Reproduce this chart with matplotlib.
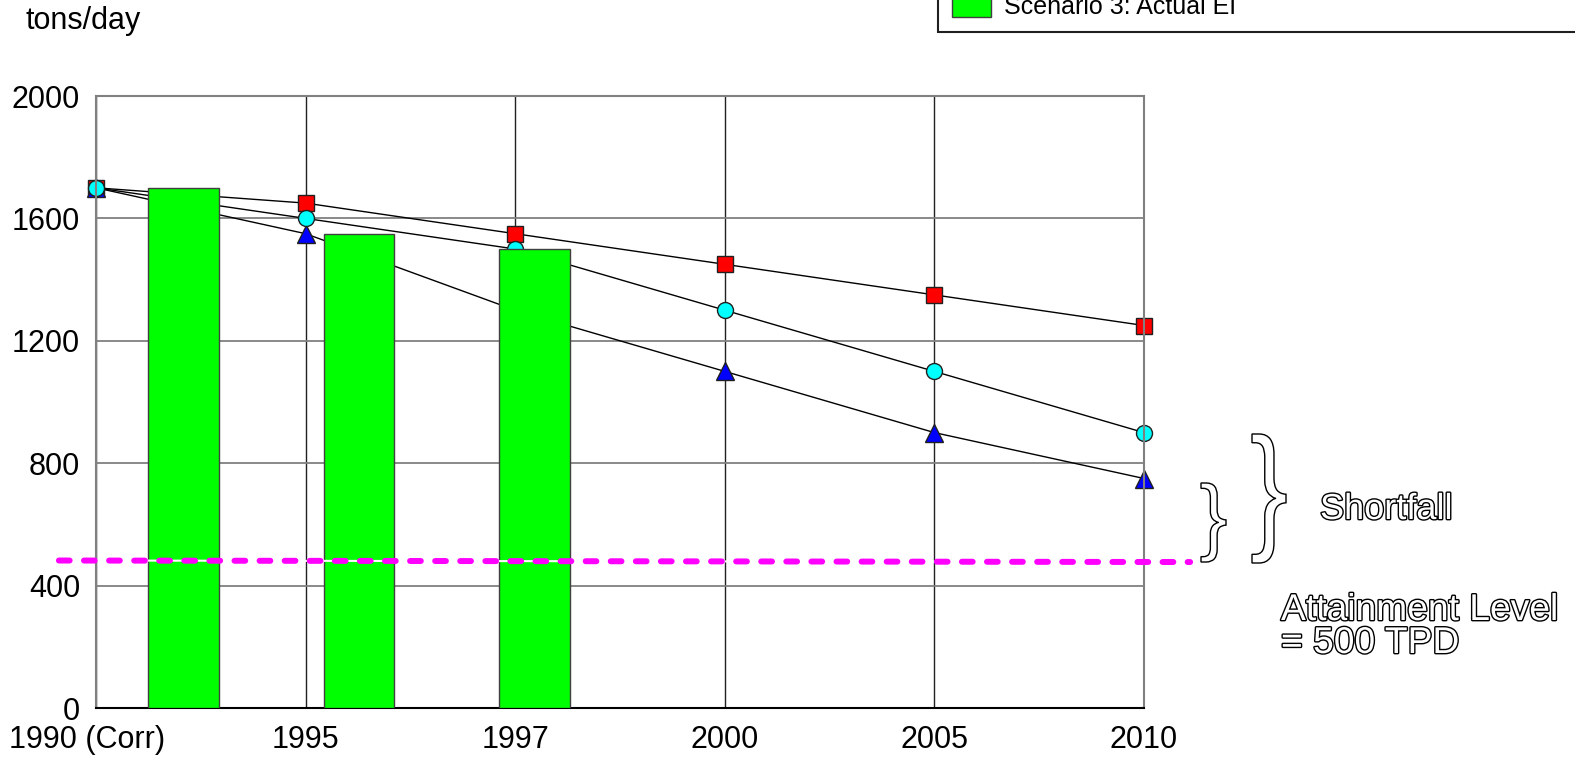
import matplotlib
matplotlib.use("Agg")
import matplotlib.pyplot as plt
import matplotlib.patheffects as pe
from matplotlib.patches import Rectangle, PathPatch
from matplotlib.textpath import TextPath
from matplotlib.font_manager import FontProperties
from matplotlib.transforms import Affine2D, ScaledTranslation
import numpy as np

plt.rcParams['font.family'] = ['Liberation Sans', 'DejaVu Sans']

# ---------------- data ----------------
categories = ["1990 (Corr)", "1995", "1997", "2000", "2005", "2010"]
scenario_red = [1700, 1650, 1550, 1450, 1350, 1250]
scenario_cyan = [1700, 1600, 1500, 1300, 1100, 900]
scenario_blue = [1700, 1550, 1300, 1100, 900, 750]
actual_ei = [1700, 1550, 1500]
attainment_line = [482, 477]
y_ticks = [0, 400, 800, 1200, 1600, 2000]

W, H = 1575, 761
fig = plt.figure(figsize=(W / 100, H / 100), dpi=100)


def fx(x):
    return x / W


def fy(y):
    return 1 - y / H


ax = fig.add_axes([fx(96), fy(708), (1144 - 96) / W, (708 - 96) / H])
xpos = np.arange(len(categories))

# grid
ax.set_axisbelow(True)
ax.yaxis.grid(True, color='#808080', lw=1.3, zorder=0)
ax.xaxis.grid(True, color='#202020', lw=1.0, zorder=0)

# scenario lines (below bars)
ax.plot(xpos, scenario_red, color='black', lw=1.0, marker='s', ms=11.5,
        mfc='#FF0000', mec='#202020', mew=1.0, zorder=2, clip_on=False)
ax.plot(xpos, scenario_blue, color='black', lw=1.0, marker='^', ms=13,
        mfc='#0000FF', mec='#202020', mew=1.0, zorder=2, clip_on=False)
ax.plot(xpos, scenario_cyan, color='black', lw=1.0, marker='o', ms=11.5,
        mfc='#00FFFF', mec='#202020', mew=1.0, zorder=2, clip_on=False)

# actual bars
bar_pos = [0.418, 1.255, 2.092]
ax.bar(bar_pos, actual_ei, width=0.337, color='#00FF00', edgecolor='#404040',
       lw=1.0, zorder=3)

# attainment dashed line
line_x = [-0.177, 5.22]
ax.plot(line_x, attainment_line, color='white', lw=1.5, zorder=4, clip_on=False)
ax.plot(line_x, attainment_line, color='#FF00FF', lw=4.3,
        linestyle=(0, (1.8, 2.4)), dash_capstyle='round', zorder=5, clip_on=False)

ax.set_xlim(0, 5)
ax.set_ylim(0, 2000)
ax.set_xticks(xpos)
ax.set_xticklabels(categories)
ax.set_yticks(y_ticks)
ax.tick_params(axis='both', length=0, labelsize=22, colors='black')
ax.tick_params(axis='y', pad=11.5)
ax.tick_params(axis='x', pad=12.5)

# first category label sits a little left of its tick in the reference
first = ax.get_xticklabels()[0]
first.set_transform(first.get_transform() +
                    ScaledTranslation(-9 / 100, 0, fig.dpi_scale_trans))

for s in ['left', 'top', 'right']:
    ax.spines[s].set_color('#808080')
    ax.spines[s].set_linewidth(1.5)
ax.spines['bottom'].set_color('black')
ax.spines['bottom'].set_linewidth(1.5)

# y unit label
fig.text(fx(25), fy(29), "tons/day", fontsize=22, ha='left', va='baseline')

# outlined annotation text
outline = [pe.withStroke(linewidth=2.0, foreground='black')]
fig.text(fx(1320), fy(519), "Shortfall", fontsize=26, color='white',
         ha='left', va='baseline', path_effects=outline)
fig.text(fx(1281), fy(620), "Attainment Level", fontsize=26.8, color='white',
         ha='left', va='baseline', path_effects=outline)
fig.text(fx(1281), fy(653), "= 500 TPD", fontsize=26.8, color='white',
         ha='left', va='baseline', path_effects=outline)

# braces drawn from a glyph path stretched to a box (pixel coordinates)
fp = FontProperties(family='Liberation Sans')
brace = TextPath((0, 0), "}", size=1, prop=fp)
bx = brace.get_extents()


def draw_brace(x0, x1, ytop, ybot):
    sx = (x1 - x0) / bx.width
    sy = (ybot - ytop) / bx.height
    tr = (Affine2D().translate(-bx.x0, -bx.y0).scale(sx, sy)
          .translate(x0, H - ybot))
    p = tr.transform_path(brace)
    patch = PathPatch(p, facecolor='white', edgecolor='black', lw=1.0,
                      transform=None)
    fig.add_artist(patch)


draw_brace(1201, 1226, 483, 562)
draw_brace(1252, 1286, 434, 563)

# legend (partially visible, cropped at top)
leg_box = Rectangle((fx(938), fy(32)), fx(1600 - 938), fy(-20) - fy(32),
                    transform=fig.transFigure, facecolor='white',
                    edgecolor='#202020', lw=1.5, clip_on=False)
fig.add_artist(leg_box)
leg_patch = Rectangle((fx(952), fy(17)), fx(991 - 952), fy(-10) - fy(17),
                      transform=fig.transFigure, facecolor='#00FF00',
                      edgecolor='#404040', lw=1.0, clip_on=False)
fig.add_artist(leg_patch)
fig.text(fx(1004), fy(14), "Scenario 3: Actual EI", fontsize=18,
         ha='left', va='baseline')

fig.savefig("out.png", dpi=100)
